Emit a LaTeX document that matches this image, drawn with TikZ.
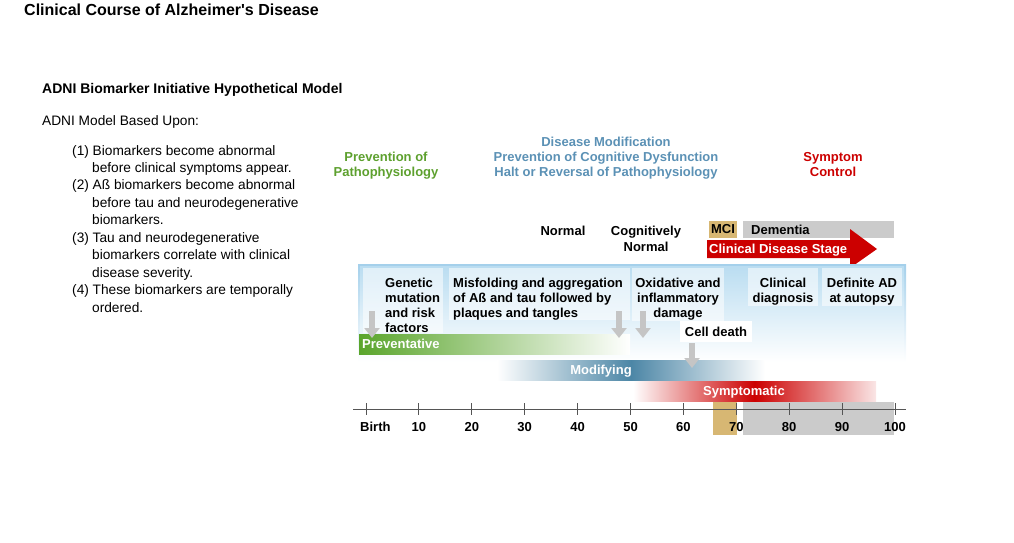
\documentclass[tikz,border=0pt]{standalone}
\usepackage{fontspec}
\setmainfont{Liberation Sans}
\usetikzlibrary{arrows.meta}

\definecolor{prevgreen}{HTML}{5DA02E}
\definecolor{modblue}{HTML}{5B91B5}
\definecolor{sympred}{HTML}{CC0000}
\definecolor{bargreen}{HTML}{5AA52C}
\definecolor{barblue}{HTML}{4C86A6}
\definecolor{panelblue}{HTML}{BADDF1}
\definecolor{paneledge}{HTML}{A4D0EB}
\definecolor{mcibeige}{HTML}{D7B773}
\definecolor{dementgray}{HTML}{CBCBCB}
\definecolor{arrowgray}{HTML}{C5C5C5}
\definecolor{axisgray}{HTML}{555555}

\begin{document}
\begin{tikzpicture}[
        x=1pt, y=-1pt,
        lbl/.style={font=\bfseries\fontsize{13}{15}\selectfont, inner sep=0pt, align=center},
        body/.style={font=\fontsize{13.7}{16}\selectfont, inner sep=0pt, anchor=base west},
        stagebox/.style={fill=white, fill opacity=0.55},
        downarrow/.style={draw=arrowgray, line width=6.5pt, -{Triangle[width=15pt,length=10pt]}}
    ]
    \useasboundingbox (0,0) rectangle (1014,543);

    \node[anchor=base west, inner sep=0pt, font=\bfseries\fontsize{16}{19}\selectfont] (title) at (24,15.5) {Clinical Course of Alzheimer\textquotesingle s Disease};
    \node[anchor=base west, inner sep=0pt, font=\bfseries\fontsize{14}{17}\selectfont] (model) at (42,93) {ADNI Biomarker Initiative Hypothetical Model};
    \node[body] (basis) at (42,125) {ADNI Model Based Upon:};

    \foreach \i/\xx/\t in {0/72/(1) Biomarkers become abnormal, 1/92/before clinical symptoms appear.,
            2/72/(2) Aß biomarkers become abnormal, 3/92/before tau and neurodegenerative, 4/92/biomarkers.,
            5/72/(3) Tau and neurodegenerative, 6/92/biomarkers correlate with clinical, 7/92/disease severity.,
            8/72/(4) These biomarkers are temporally, 9/92/ordered.} {
        \node[body] (item\i) at (\xx,{155+17.45*\i}) {\t};
    }

    % headings
    \node[lbl, text=prevgreen, anchor=north] (prevhead) at (386,152.3) {Prevention of\\Pathophysiology};
    \node[lbl, text=modblue, anchor=north] (modhead) at (606,137.3) {Disease Modification\\Prevention of Cognitive Dysfunction\\Halt or Reversal of Pathophysiology};
    \node[lbl, text=sympred, anchor=north] (symphead) at (833,152.3) {Symptom\\Control};

    % clinical stages
    \node[lbl, anchor=north] (normal) at (563,226.3) {Normal};
    \node[lbl, anchor=north] (cognormal) at (646,226.3) {Cognitively\\[1pt]Normal};
    \fill[mcibeige] (709,221) rectangle (737,238);
    \node[lbl] (mci) at (723,229.5) {MCI};
    \fill[dementgray] (743,221) rectangle (894,238);
    \node[lbl, anchor=base west] (dementia) at (751,234.3) {Dementia};
    \fill[sympred] (707,240) -- (850,240) -- (850,229) -- (877,249) -- (850,268) -- (850,258) -- (707,258) -- cycle;
    \node[lbl, text=white, anchor=base west] (stage) at (709,253.7) {Clinical Disease Stage};

    % panel
    \shade[top color=paneledge, bottom color=white] (358,264) rectangle (906,362);
    \shade[top color=panelblue, bottom color=white] (360,266) rectangle (904,362);
    \foreach \xa/\ya/\xb/\yb in {363/268/443/333, 449/268/630/320, 632/268/724/321, 748/268/818/306, 822/268/902/306}
        \fill[stagebox] (\xa,\ya) rectangle (\xb,\yb);

    \node[lbl, align=left, anchor=north west] (genetic) at (385,277.4) {Genetic\\mutation\\and risk\\factors};
    \node[lbl, align=left, anchor=north west] (misfold) at (453,277.4) {Misfolding and aggregation\\of Aß and tau followed by\\plaques and tangles};
    \node[lbl, anchor=north] (oxid) at (678,277.4) {Oxidative and\\inflammatory\\damage};
    \node[lbl, anchor=north] (clindiag) at (783,277.4) {Clinical\\diagnosis};
    \node[lbl, anchor=north] (autopsy) at (862,277.4) {Definite AD\\at autopsy};
    \node[lbl, fill=white, inner xsep=5pt, minimum height=21] (celldeath) at (716,331.5) {Cell death};

    % treatment bars
    \shade[left color=bargreen, right color=white] (359,334) rectangle (630,354);
    \shade[left color=white, right color=white, middle color=barblue] (497,360) rectangle (765,380);
    \shade[left color=white, right color=sympred!10, middle color=sympred] (633,381) rectangle (876,401);
    \node[lbl, text=white, anchor=base west] (preventative) at (362,348.7) {Preventative};
    \node[lbl, text=white, anchor=base] (modifying) at (601,374.7) {Modifying};
    \node[lbl, text=white, anchor=base] (symptomatic) at (744,395.7) {Symptomatic};

    \foreach \ax/\ay/\by in {372/311/338, 619/311/338, 643/311/338, 692/343/368}
        \draw[downarrow] (\ax,\ay) -- (\ax,\by);

    % age axis
    \fill[mcibeige] (713,402) rectangle (737,435);
    \fill[dementgray] (743,402) rectangle (894,435);
    \draw[axisgray, line width=1pt] (353,409) -- (906,409);
    \foreach \yr in {0,10,...,100}
        \draw[axisgray, line width=1pt] ({366+5.29*\yr},403) -- ({366+5.29*\yr},415);
    \node[lbl, anchor=base west] (birth) at (360,431.5) {Birth};
    \foreach \yr in {10,20,...,100}
        \node[lbl, anchor=base] (age\yr) at ({366+5.29*\yr},431.5) {\yr};
\end{tikzpicture}
\end{document}
